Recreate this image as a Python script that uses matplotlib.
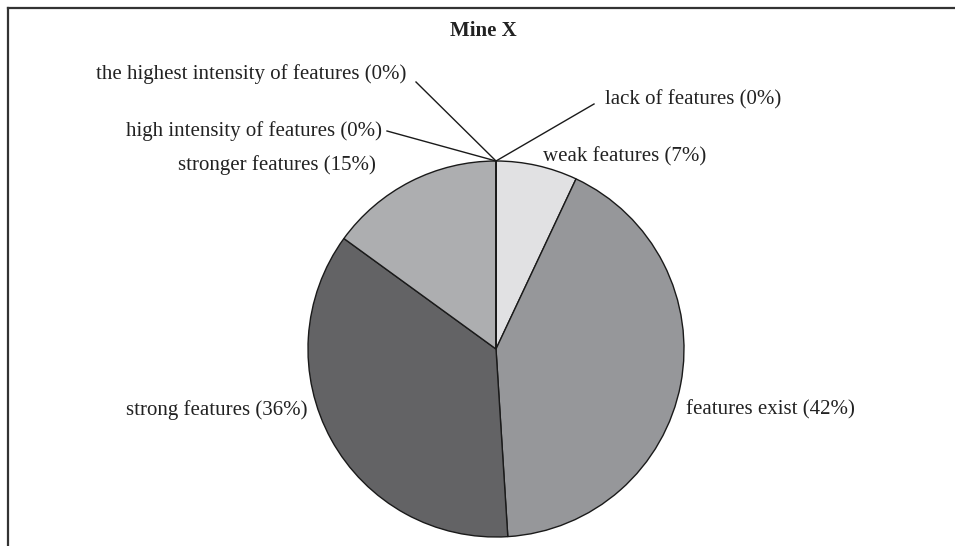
import matplotlib
matplotlib.use("Agg")
import matplotlib.pyplot as plt
from matplotlib.lines import Line2D

title = "Mine X"
categories = ["lack of features", "weak features", "features exist", "strong features",
              "stronger features", "high intensity of features",
              "the highest intensity of features"]
values = [0, 7, 42, 36, 15, 0, 0]
colors = ["#ffffff", "#e1e1e3", "#96979a", "#636365", "#adaeb0", "#ffffff", "#ffffff"]

W, H = 955, 546
fig = plt.figure(figsize=(W / 100, H / 100), dpi=100)
ax = fig.add_axes([0, 0, 1, 1])

cx, cy, r = 496, H - 349, 188
ax.pie(values, colors=colors, startangle=90, counterclock=False,
       center=(cx, cy), radius=r, frame=True,
       wedgeprops=dict(edgecolor="#1a1a1a", linewidth=1.0))
ax.set_xlim(0, W)
ax.set_ylim(0, H)
ax.set_aspect("auto")
ax.axis("off")

serif = ["Liberation Serif", "DejaVu Serif"]
font = dict(family=serif, fontsize=15, color="#222222")

def lab(i):
    return f"{categories[i]} ({values[i]}%)"

top = (cx, cy + r)
# leader lines for zero slices
for (x, y) in [(594, 104), (416, 82), (387, 131)]:
    ax.plot([top[0], x], [top[1], H - y], color="#1a1a1a", lw=1.0)

ax.text(605, H - 100, lab(0), ha="left", va="center", **font)
ax.text(543, H - 157, lab(1), ha="left", va="center", **font)
ax.text(686, H - 410, lab(2), ha="left", va="center", **font)
ax.text(307, H - 410, lab(3), ha="right", va="center", **font)
ax.text(376, H - 165, lab(4), ha="right", va="center", **font)
ax.text(382, H - 131, lab(5), ha="right", va="center", **font)
ax.text(406, H - 74, lab(6), ha="right", va="center", **font)

ax.text(483, H - 31, title, ha="center", va="center", fontweight="bold",
        family=serif, fontsize=15, color="#222222")

# frame (left and top edges visible)
fig.add_artist(Line2D([7.5 / W, 7.5 / W], [0, 1 - 7.5 / H], transform=fig.transFigure,
                      color="#333333", lw=1.6))
fig.add_artist(Line2D([7.5 / W, 1], [1 - 7.5 / H, 1 - 7.5 / H], transform=fig.transFigure,
                      color="#333333", lw=1.6))

fig.savefig("out.png", dpi=100)
